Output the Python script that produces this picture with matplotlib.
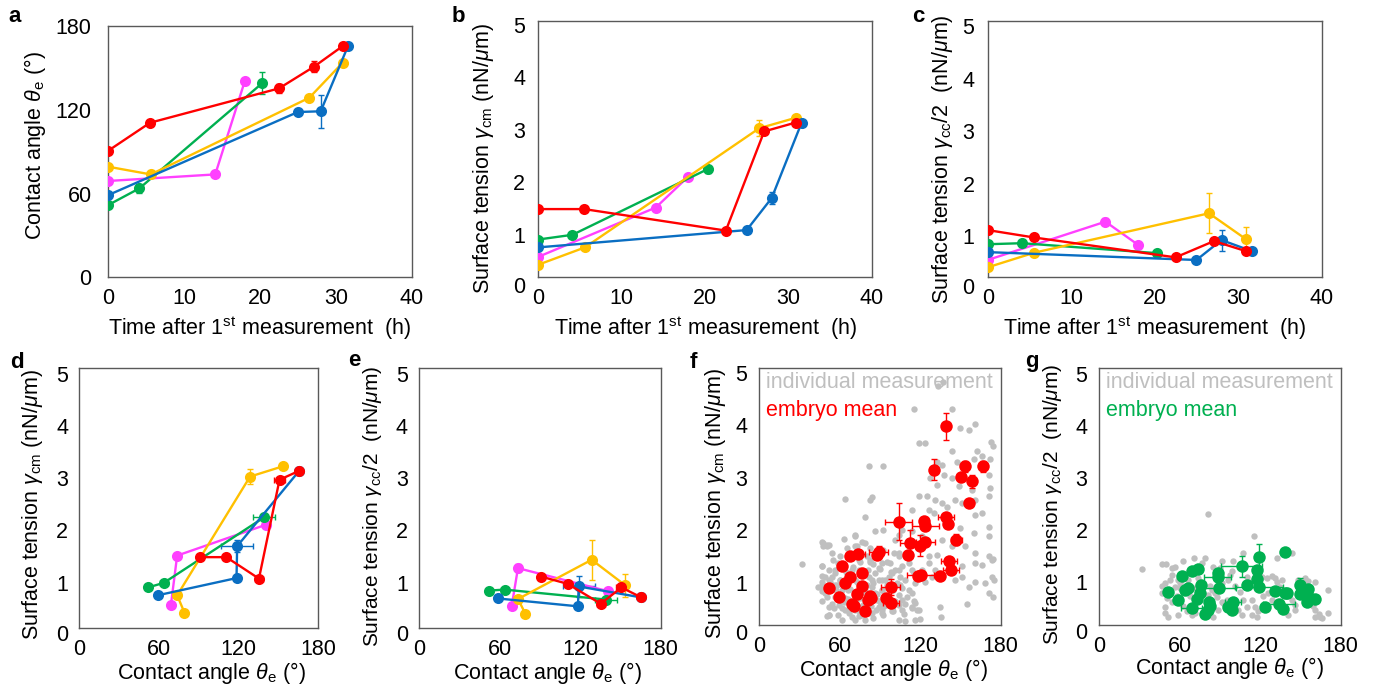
import matplotlib
matplotlib.use('Agg')
import matplotlib.pyplot as plt

plt.rcParams['font.family'] = ['Liberation Sans', 'DejaVu Sans']
plt.rcParams['mathtext.fontset'] = 'custom'
plt.rcParams['mathtext.rm'] = 'Liberation Sans'
plt.rcParams['mathtext.it'] = 'Liberation Sans:italic'
plt.rcParams['mathtext.bf'] = 'Liberation Sans:bold'

# ---------------- data: five embryos followed over time (panels a-e) ----------------
embryos = ['red', 'yellow', 'blue', 'green', 'magenta']
colors = {'red': '#FF0000', 'yellow': '#FFC000', 'blue': '#0A6EC2',
          'green': '#00B050', 'magenta': '#FF40FF'}

time_h = {
    'red':     [0, 5.5, 22.5, 27.1, 30.9],
    'yellow':  [0, 5.6, 26.5, 30.9],
    'blue':    [0, 25.0, 28.0, 31.6],
    'green':   [0, 4.1, 20.3],
    'magenta': [0, 14.1, 18.0],
}
theta = {
    'red':     [90.7, 110.7, 135.3, 150.8, 165.6],
    'yellow':  [79.2, 73.7, 128.6, 153.7],
    'blue':    [58.9, 118.4, 118.9, 165.6],
    'green':   [51.8, 63.7, 139.1],
    'magenta': [69.0, 73.7, 140.6],
}
theta_err = {
    'red':     [0, 0, 3, 4, 1.5],
    'yellow':  [0, 0, 2, 2],
    'blue':    [0, 0, 12, 0],
    'green':   [0, 3, 8],
    'magenta': [0, 0, 0],
}
gamma_cm = {
    'red':     [1.49, 1.49, 1.08, 2.97, 3.14],
    'yellow':  [0.43, 0.76, 3.03, 3.23],
    'blue':    [0.76, 1.09, 1.70, 3.14],
    'green':   [0.91, 1.00, 2.25],
    'magenta': [0.58, 1.52, 2.11],
}
gamma_cm_err = {
    'red':     [0, 0, 0, 0, 0],
    'yellow':  [0, 0, 0.15, 0.05],
    'blue':    [0, 0, 0.12, 0],
    'green':   [0, 0, 0.07],
    'magenta': [0, 0, 0],
}
gamma_cc = {
    'red':     [1.12, 0.98, 0.60, 0.91, 0.72],
    'yellow':  [0.41, 0.69, 1.44, 0.95],
    'blue':    [0.70, 0.55, 0.93, 0.72],
    'green':   [0.85, 0.87, 0.68],
    'magenta': [0.55, 1.28, 0.84],
}
gamma_cc_err = {
    'red':     [0, 0, 0, 0, 0],
    'yellow':  [0, 0, 0.38, 0.22],
    'blue':    [0, 0, 0.2, 0],
    'green':   [0, 0, 0],
    'magenta': [0, 0.07, 0],
}

# ---------------- data: panel f ----------------
f_individual = [
    (115.1, 4.31), (143.7, 4.31), (149.9, 3.95), (161.1, 4.02), (156.2, 3.92), (118.8, 3.66),
    (123.8, 3.66), (173.1, 3.68), (162.4, 3.51), (143.7, 3.51), (159.9, 3.35), (172.3, 3.35),
    (166.1, 3.41), (132.5, 3.31), (136.2, 3.25), (147.4, 3.31), (81.5, 3.23), (92.2, 3.23),
    (127.5, 2.99), (137.5, 3.06), (143.7, 2.99), (132.5, 2.87), (148.7, 2.84), (158.7, 2.77),
    (171.1, 3.06), (172.3, 2.80), (64.0, 2.59), (84.0, 2.63), (82.2, 2.58), (118.8, 2.66),
    (125.0, 2.65), (131.3, 2.58), (136.2, 2.52), (140.0, 2.45), (146.2, 2.58), (151.2, 2.52),
    (161.1, 2.58), (171.1, 2.65), (161.1, 2.29), (166.1, 2.33), (171.1, 2.07), (126.3, 2.39),
    (113.8, 2.39), (130.0, 2.33), (79.0, 2.26), (92.2, 2.01), (71.5, 1.91), (62.8, 1.83),
    (106.4, 2.01), (113.8, 1.98), (149.9, 2.04), (159.9, 1.94), (171.1, 1.88), (136.2, 1.82),
    (143.7, 1.69), (153.7, 1.69), (161.1, 1.56), (171.1, 1.50), (173.6, 1.43), (151.2, 1.31),
    (161.1, 1.37), (166.1, 1.34), (132.5, 1.53), (126.3, 1.37), (31.7, 1.35), (46.6, 1.32),
    (47.8, 1.75), (50.3, 1.72), (54.1, 1.56), (56.6, 1.24), (46.6, 1.02), (49.1, 1.11),
    (54.1, 1.11), (57.8, 0.96), (61.5, 0.86), (44.1, 0.92), (46.6, 0.83), (50.3, 0.72),
    (54.1, 0.60), (59.1, 0.57), (64.0, 0.48), (71.5, 0.48), (81.5, 0.41), (91.4, 0.48),
    (98.9, 0.51), (103.9, 0.57), (108.9, 0.60), (113.8, 0.54), (117.6, 0.48), (51.6, 0.38),
    (61.5, 0.29), (71.5, 0.29), (79.0, 0.29), (86.4, 1.18), (91.4, 1.05), (96.4, 1.11),
    (101.4, 1.24), (106.4, 1.31), (103.9, 1.56), (82.7, 1.43), (71.5, 1.69), (76.5, 1.78),
    (69.0, 1.47), (74.0, 1.24), (81.5, 1.11), (84.0, 0.92), (91.4, 0.86), (95.2, 0.64),
    (103.9, 0.76), (111.3, 0.86), (116.3, 0.99), (123.8, 1.02), (128.8, 1.11), (131.3, 1.24),
    (136.2, 1.11), (146.2, 1.05), (151.2, 1.11), (156.2, 0.92), (161.1, 1.02), (168.6, 0.99),
    (173.6, 1.11), (171.1, 0.80), (174.5, 0.73), (111.3, 1.37), (121.3, 1.24), (126.3, 1.50),
    (113.8, 1.24), (54.0, 0.95), (57.0, 0.85), (62.0, 0.75), (66.0, 0.68), (72.0, 0.66),
    (75.0, 0.70), (78.0, 0.82), (80.0, 0.95), (85.0, 1.00), (88.0, 0.78), (90.0, 0.62),
    (93.0, 0.55), (65.0, 1.20), (70.0, 1.30), (75.0, 1.40), (80.0, 1.50), (85.0, 1.35),
    (90.0, 1.25), (95.0, 1.40), (60.0, 1.05), (68.0, 0.88), (73.0, 1.02), (83.0, 0.55),
    (87.0, 0.48), (77.0, 0.58), (63.0, 0.62), (58.0, 0.68), (95.0, 0.95), (100.0, 0.85),
    (105.0, 0.95), (110.0, 0.72), (47.0, 0.90), (52.0, 1.05), (56.0, 0.52), (67.0, 0.42),
    (74.0, 0.36), (85.0, 0.32), (92.0, 0.38), (100.0, 0.45), (108.0, 0.40), (120.0, 0.30),
    (115.0, 0.65), (105.0, 1.10), (98.0, 1.20), (133.0, 4.75), (137.0, 4.83), (174.0, 3.60),
    (174.0, 1.45), (174.8, 1.05), (104.5, 0.29), (135.0, 0.54), (135.5, 0.35), (155.0, 0.60),
    (50.3, 0.36), (47.4, 1.70),
    (46.6, 1.78), (51.6, 1.72), (50.3, 1.69), (71.5, 1.89), (86.4, 1.98), (101.4, 1.82),
    (78.9, 1.75), (65.3, 1.66), (72.7, 1.69), (82.7, 1.66), (92.6, 1.63), (100.1, 1.56),
    (103.9, 1.50), (60.3, 1.50), (55.3, 1.43), (59.0, 1.37), (74.0, 1.43), (82.7, 1.40),
    (91.4, 1.37), (97.6, 1.37), (46.6, 1.31), (51.6, 1.24), (56.5, 1.18), (69.0, 1.24),
    (81.4, 1.24), (88.9, 1.27), (98.9, 1.18), (103.9, 1.24), (46.6, 1.12), (52.8, 1.02),
    (60.3, 1.05), (71.5, 1.05), (83.9, 1.05), (88.9, 1.05), (93.9, 1.05), (102.6, 0.99),
    (108.8, 1.05), (115.0, 1.18), (46.6, 0.96), (56.5, 0.96), (66.5, 0.86), (78.9, 0.86),
    (86.4, 0.80), (91.4, 0.86), (106.3, 0.89), (113.8, 0.80), (49.1, 0.80), (56.5, 0.73),
    (64.0, 0.70), (74.0, 0.73), (87.7, 0.67), (101.4, 0.64), (106.3, 0.67), (116.3, 0.61),
    (46.6, 0.64), (51.6, 0.54), (61.5, 0.51), (66.5, 0.48), (74.0, 0.45), (88.9, 0.54),
    (98.9, 0.45), (106.3, 0.48), (113.8, 0.51), (118.8, 0.48), (59.0, 0.38), (69.0, 0.35),
    (76.5, 0.38), (83.9, 0.41), (91.4, 0.41), (51.6, 0.38), (116.3, 0.29), (108.8, 0.26),
    (121.3, 1.89), (103.9, 1.91),
]
# embryo means: (theta, gamma_cm, theta_err, gamma_err)
f_means = [
    (139.2, 3.98, 0, 0.25), (130.0, 3.15, 0, 0.20), (153.6, 3.22, 0, 0.10), (166.5, 3.22, 0, 0.10),
    (150.6, 3.01, 3, 0), (158.6, 2.93, 0, 0.12), (156.1, 2.52, 0, 0), (139.2, 2.25, 6, 0),
    (140.7, 2.12, 0, 0), (103.8, 2.16, 10, 0.35), (122.5, 2.17, 0, 0), (123.7, 2.08, 10, 0),
    (147.0, 1.82, 4, 0.10), (112.0, 1.75, 7, 0.25), (123.7, 1.78, 7, 0), (119.5, 1.70, 0, 0.20),
    (111.0, 1.52, 0, 0), (141.2, 1.41, 6, 0), (142.9, 1.24, 6, 0), (120.5, 1.14, 10, 0),
    (118.3, 1.12, 0, 0), (135.0, 1.12, 0, 0), (88.9, 1.59, 7, 0.10), (87.7, 1.53, 0, 0),
    (73.9, 1.55, 5, 0), (68.0, 1.50, 0, 0), (62.0, 1.31, 0, 0), (76.9, 1.18, 0, 0),
    (67.7, 1.10, 0, 0), (64.0, 0.99, 0, 0), (76.9, 0.94, 0, 0), (52.1, 0.89, 0, 0),
    (98.1, 0.91, 7, 0.15), (59.5, 0.73, 0, 0), (73.2, 0.78, 0, 0), (82.7, 0.75, 0, 0),
    (81.4, 0.66, 0, 0), (94.6, 0.70, 0, 0), (69.0, 0.59, 0, 0), (70.7, 0.56, 0, 0),
    (98.4, 0.61, 6, 0), (78.9, 0.45, 0, 0), (83.4, 0.70, 0, 0),
]

# ---------------- data: panel g ----------------
g_individual = [
    (81.3, 2.30), (31.6, 1.25), (115.5, 1.87), (46.5, 1.34), (49.5, 1.34), (62.6, 1.39),
    (70.8, 1.45), (78.8, 1.45), (91.7, 1.39), (99.9, 1.39), (107.3, 1.56), (132.2, 1.45),
    (143.4, 1.55), (155.8, 1.02), (160.7, 1.00), (170.7, 0.84), (54.0, 1.26), (56.4, 1.29),
    (54.0, 1.13), (52.7, 1.04), (49.0, 0.98), (46.5, 0.91), (46.5, 0.78), (50.2, 0.68),
    (49.0, 0.52), (54.0, 0.62), (57.7, 0.72), (60.1, 0.88), (56.4, 0.90), (62.6, 0.54),
    (65.1, 0.43), (68.8, 0.37), (71.3, 0.40), (78.8, 0.37), (85.0, 0.33), (88.7, 0.46),
    (92.4, 0.59), (94.9, 0.65), (83.7, 0.85), (86.2, 0.78), (82.5, 0.91), (91.2, 0.97),
    (96.2, 1.04), (98.6, 1.20), (97.4, 1.13), (101.1, 0.91), (104.9, 0.81), (107.3, 0.65),
    (109.8, 0.52), (113.5, 0.36), (117.3, 0.32), (106.1, 0.37), (103.6, 0.46), (121.0, 1.10),
    (124.7, 1.07), (128.5, 1.11), (131.0, 1.07), (132.2, 1.00), (126.0, 0.78), (122.2, 0.72),
    (128.5, 0.65), (139.6, 0.72), (143.4, 0.65), (145.8, 0.56), (145.8, 0.46), (140.9, 0.36),
    (148.3, 1.04), (153.3, 1.07), (150.8, 0.72), (158.3, 0.72), (160.7, 0.46), (163.7, 0.38),
    (160.7, 0.33), (165.7, 0.30), (159.5, 0.54), (85.0, 1.29), (90.0, 1.26), (76.3, 1.36),
    (72.6, 1.23), (58.9, 1.04), (60.1, 0.97), (66.4, 1.04), (113.5, 0.65), (116.0, 0.52),
    (118.5, 0.43), (49.0, 0.40), (51.5, 0.33), (58.9, 0.37), (109.8, 1.09), (112.3, 1.00),
    (73.8, 1.07), (76.3, 0.97), (71.3, 0.88), (67.6, 0.72), (87.5, 0.70), (91.2, 0.62),
    (81.3, 0.75), (136.0, 1.04), (134.7, 0.90), (170.7, 0.40), (164.5, 0.33),
]
g_means = [
    (138.4, 1.57, 0, 0), (119.2, 1.48, 0, 0.25), (106.1, 1.30, 15, 0.20), (117.3, 1.23, 0, 0),
    (88.7, 1.16, 0, 0), (88.2, 1.09, 10, 0), (73.8, 1.24, 0, 0), (68.9, 1.21, 0, 0),
    (61.9, 1.11, 0, 0), (117.3, 1.05, 0, 0), (119.2, 0.90, 18, 0), (110.3, 0.94, 0, 0),
    (89.2, 0.88, 13, 0), (75.8, 0.94, 0, 0), (66.4, 0.88, 0, 0), (63.9, 0.84, 0, 0),
    (51.0, 0.80, 0, 0), (75.0, 0.78, 0, 0), (72.6, 0.66, 0, 0), (58.9, 0.65, 0, 0),
    (81.7, 0.62, 0, 0), (82.5, 0.54, 0, 0), (81.3, 0.46, 0, 0), (78.8, 0.38, 0, 0),
    (68.9, 0.49, 8, 0), (99.9, 0.62, 6, 0), (96.1, 0.52, 0, 0), (98.6, 0.45, 0, 0),
    (130.9, 0.82, 0, 0), (138.4, 0.79, 0, 0), (140.1, 0.79, 0, 0), (123.5, 0.52, 0, 0),
    (133.8, 0.58, 12, 0), (137.1, 0.48, 0, 0), (149.6, 0.93, 0, 0.15), (150.8, 0.85, 0, 0),
    (149.6, 0.77, 0, 0), (155.7, 0.86, 0, 0), (155.2, 0.77, 0, 0), (155.0, 0.62, 0, 0),
    (161.2, 0.67, 0, 0),
]

# ---------------- layout ----------------
W, H = 1375, 692
fig = plt.figure(figsize=(W / 100, H / 100), dpi=100)
FS = 15.5
SPINE = '#595959'
GRAY = '#BFBFBF'


def add_ax(l, t, r, b):
    ax = fig.add_axes([l / W, 1 - b / H, (r - l) / W, (b - t) / H])
    for s in ax.spines.values():
        s.set_color(SPINE)
        s.set_linewidth(1.0)
    ax.tick_params(length=0, labelsize=FS, pad=8.0)
    return ax, (l, t, r, b)


def finish_axes(ax, box, xlim, xticks, ylim, yticks, xlabel, ylabel,
                xl_pos, yl_pos, ypad=8.5, zero_label=False, ylab_fs=FS):
    l, t, r, b = box
    ax.set_xlim(*xlim)
    ax.set_xticks(xticks)
    ax.set_ylim(*ylim)
    ax.set_yticks(yticks)
    ax.tick_params(axis='y', pad=ypad)
    if zero_label:
        ax.annotate('0', xy=(0, 0), xycoords=('axes fraction', 'data'),
                    xytext=(-ypad, 0), textcoords='offset points',
                    ha='right', va='center', fontsize=FS, annotation_clip=False)
    ax.set_xlabel(xlabel, fontsize=FS, va='center')
    ax.set_ylabel(ylabel, fontsize=ylab_fs, va='center')
    ax.xaxis.set_label_coords((xl_pos[0] - l) / (r - l), (b - xl_pos[1]) / (b - t))
    ax.yaxis.set_label_coords((yl_pos[0] - l) / (r - l), (b - yl_pos[1]) / (b - t))


def draw_embryo(ax, x, y, xerr, yerr, c):
    ax.errorbar(x, y, xerr=xerr, yerr=yerr, fmt='none', ecolor=c,
                elinewidth=1.0, capsize=2.2, capthick=1.0, zorder=2)
    ax.plot(x, y, '-o', color=c, lw=1.7, ms=8.0, mec='none', zorder=3)


order = ['magenta', 'green', 'yellow', 'blue', 'red']

time_label = 'Time after 1$^{\\rm st}$ measurement  (h)'
theta_label = 'Contact angle $\\theta_{\\rm e}$ (°)'
gcm_label = 'Surface tension $\\gamma_{\\rm cm}$ (nN/$\\mu$m)'
gcc_label = 'Surface tension $\\gamma_{\\rm cc}$/2  (nN/$\\mu$m)'
ten_ticks_nz = [1, 2, 3, 4, 5]

# panel a
ax, box = add_ax(108.3, 26, 411.7, 277.3)
for e in order:
    draw_embryo(ax, time_h[e], theta[e], None, theta_err[e], colors[e])
finish_axes(ax, box, (0, 40), [0, 10, 20, 30, 40], (0, 180), [0, 60, 120, 180],
            time_label, 'Contact angle $\\theta_{\\rm e}$ (°)', (260, 328), (35, 146), ypad=12)

# panel b
ax, box = add_ax(538.3, 20.7, 871.7, 277.3)
for e in order:
    draw_embryo(ax, time_h[e], gamma_cm[e], None, gamma_cm_err[e], colors[e])
finish_axes(ax, box, (0, 40), [0, 10, 20, 30, 40], (0.19, 5.08), ten_ticks_nz,
            time_label, gcm_label, (706, 328), (484, 159), ypad=9.5, zero_label=True)

# panel c
ax, box = add_ax(987.7, 20.7, 1321.7, 277.3)
for e in order:
    draw_embryo(ax, time_h[e], gamma_cc[e], None, gamma_cc_err[e], colors[e])
finish_axes(ax, box, (0, 40), [0, 10, 20, 30, 40], (0.22, 5.11), ten_ticks_nz,
            time_label, gcc_label, (1155, 328), (942, 159), ypad=9.5, zero_label=True)

# panel d
ax, box = add_ax(79.3, 368.3, 318.3, 628.3)
for e in order:
    draw_embryo(ax, theta[e], gamma_cm[e], theta_err[e], gamma_cm_err[e], colors[e])
finish_axes(ax, box, (0, 180), [0, 60, 120, 180], (0.13, 5.10), ten_ticks_nz,
            theta_label, gcm_label, (211, 673), (33, 505), ypad=8, zero_label=True)

# panel e
ax, box = add_ax(419, 368.3, 660.7, 628.3)
for e in order:
    draw_embryo(ax, theta[e], gamma_cc[e], theta_err[e], gamma_cc_err[e], colors[e])
finish_axes(ax, box, (0, 180), [0, 60, 120, 180], (0.13, 5.10), ten_ticks_nz,
            theta_label, gcc_label, (547, 673), (373, 506), ypad=8, zero_label=True,
            ylab_fs=15)


def scatter_panel(box_px, individual, means, mcolor, ylab, xl_pos, yl_pos, ylim, ylab_fs=FS):
    ax, box = add_ax(*box_px)
    ix = [p[0] for p in individual]
    iy = [p[1] for p in individual]
    ax.plot(ix, iy, 'o', color=GRAY, ms=4.6, mec='none', zorder=1)
    mx = [p[0] for p in means]
    my = [p[1] for p in means]
    mxe = [p[2] for p in means]
    mye = [p[3] for p in means]
    ax.errorbar(mx, my, xerr=mxe, yerr=mye, fmt='none', ecolor=mcolor,
                elinewidth=1.0, capsize=2.0, capthick=1.0, zorder=2)
    ax.plot(mx, my, 'o', color=mcolor, ms=9.0, mec='none', zorder=3)
    ax.text(0.028, 0.943, 'individual measurement', transform=ax.transAxes,
            color=GRAY, fontsize=FS, ha='left', va='center')
    ax.text(0.028, 0.834, 'embryo mean', transform=ax.transAxes,
            color=mcolor, fontsize=FS, ha='left', va='center')
    finish_axes(ax, box, (0, 180), [0, 60, 120, 180], ylim, ten_ticks_nz,
                theta_label, ylab, xl_pos, yl_pos, ypad=8.5, zero_label=True,
                ylab_fs=ylab_fs)


scatter_panel((759.3, 368.3, 1000.7, 625), f_individual, f_means, '#FF0000',
              gcm_label, (893, 670), (715, 504), (0.19, 5.09))
scatter_panel((1099.3, 368.3, 1340.7, 625), g_individual, g_means, '#00B050',
              gcc_label, (1229, 668), (1052, 504), (0.17, 5.10), ylab_fs=15)

# panel letters
for letter, (px, py) in {'a': (15, 16), 'b': (458, 16), 'c': (918, 17), 'd': (17, 362),
                         'e': (354, 360), 'f': (693, 362), 'g': (1032, 361)}.items():
    fig.text(px / W, 1 - py / H, letter, fontsize=16, fontweight='bold',
             ha='center', va='center')

fig.savefig('out.png', dpi=100, facecolor='white')
